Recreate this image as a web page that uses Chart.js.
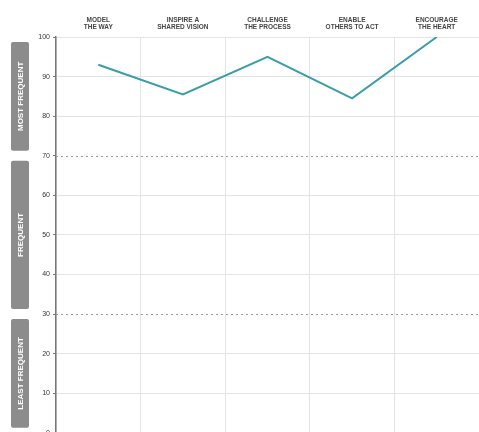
<!DOCTYPE html>
<html lang="en">
<head>
    <title>Leadership Practices</title>
    <style>
        html, body { margin: 0; padding: 0; background: #fff; overflow: hidden; }
        .container { width: 479px; height: 432px; overflow: hidden; }
    </style>
</head>
<body>
<div class="container">
    <canvas id="myChart" width="479" height="440"></canvas>
</div>
<script src="https://cdn.jsdelivr.net/npm/chart.js"></script>
<script>
    // practices across the top, two lines each
    var practices = [
        ['MODEL', 'THE WAY'],
        ['INSPIRE A', 'SHARED VISION'],
        ['CHALLENGE', 'THE PROCESS'],
        ['ENABLE', 'OTHERS TO ACT'],
        ['ENCOURAGE', 'THE HEART']
    ];
    var scores = [93, 85.5, 95, 84.5, 100];
    var yTicks = [0, 10, 20, 30, 40, 50, 60, 70, 80, 90, 100];
    // frequency bands (from, to, label)
    var bandFrom = [70, 30, 0];
    var bandTo = [100, 70, 30];
    var bandNames = ['MOST FREQUENT', 'FREQUENT', 'LEAST FREQUENT'];
    var dashedAt = [30, 70];

    var bandsPlugin = {
        id: 'bands',
        beforeDraw: function (chart) {
            var c = chart.ctx, y = chart.scales.y;
            c.save();
            for (var i = 0; i < bandNames.length; i++) {
                var top = y.getPixelForValue(bandTo[i]) + 5;
                var bot = y.getPixelForValue(bandFrom[i]) - 5;
                c.fillStyle = '#8c8c8c';
                c.beginPath();
                c.roundRect(11, top, 18, bot - top, 2);
                c.fill();
                c.translate(20, (top + bot) / 2);
                c.rotate(-Math.PI / 2);
                c.fillStyle = '#ffffff';
                c.font = 'bold 8px "Liberation Sans", Arial, sans-serif';
                c.textAlign = 'center';
                c.textBaseline = 'middle';
                c.fillText(bandNames[i], 0, 0.5);
                c.setTransform(1, 0, 0, 1, 0, 0);
            }
            c.restore();
        },
        beforeDatasetsDraw: function (chart) {
            var c = chart.ctx, y = chart.scales.y, a = chart.chartArea;
            c.save();
            c.strokeStyle = '#9a9a9a';
            c.lineWidth = 1;
            c.setLineDash([2, 3]);
            dashedAt.forEach(function (v) {
                var py = Math.round(y.getPixelForValue(v)) + 0.5;
                c.beginPath();
                c.moveTo(a.left, py);
                c.lineTo(a.right, py);
                c.stroke();
            });
            c.restore();
        }
    };

    var ctx = document.getElementById('myChart').getContext('2d');
    var myChart = new Chart(ctx, {
        type: 'line',
        data: {
            labels: practices,
            datasets: [{
                data: scores,
                borderColor: '#3a9ea6',
                borderWidth: 2,
                pointRadius: 0,
                tension: 0,
                fill: false
            }]
        },
        options: {
            responsive: false,
            animation: false,
            layout: { padding: 0 },
            plugins: { legend: { display: false }, tooltip: { enabled: false } },
            scales: {
                x: {
                    position: 'top',
                    offset: true,
                    grid: { color: '#e4e4e4', offset: true, drawTicks: false },
                    border: { display: false },
                    ticks: {
                        color: '#444',
                        padding: 6,
                        maxRotation: 0,
                        font: { family: '"Liberation Sans", Arial, sans-serif', size: 6.5, weight: 'bold', lineHeight: 1.15 }
                    },
                    afterFit: function (s) { s.height = 37; }
                },
                y: {
                    min: 0,
                    max: 100,
                    afterBuildTicks: function (s) { s.ticks = yTicks.map(function (v) { return { value: v }; }); },
                    grid: {
                        color: function (c) {
                            return dashedAt.indexOf(c.tick && c.tick.value) >= 0 ? 'rgba(0,0,0,0)' : '#e4e4e4';
                        },
                        tickColor: '#777',
                        tickLength: 3
                    },
                    border: { color: '#777', width: 1.5 },
                    ticks: {
                        color: '#333',
                        padding: 3,
                        font: { family: '"Liberation Sans", Arial, sans-serif', size: 7 }
                    },
                    afterFit: function (s) { s.width = 56; }
                }
            }
        },
        plugins: [bandsPlugin]
    });
</script>
</body>
</html>
